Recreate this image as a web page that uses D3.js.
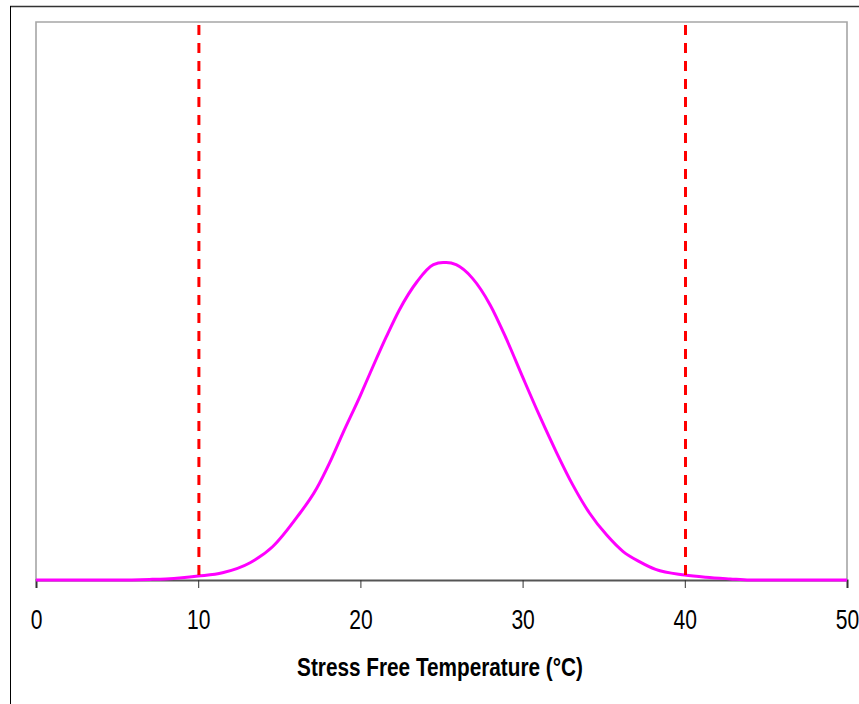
<!DOCTYPE html>
<html>
<head>
<meta charset="utf-8">
<script src="https://cdn.jsdelivr.net/npm/d3@7"></script>
<style>
  html, body { margin: 0; padding: 0; background: #fff; }
  svg { display: block; }
</style>
</head>
<body>
<svg id="chart" width="859" height="704"></svg>
<script>
// ---- data ----
const temperatures = [0, 5, 7, 8, 9, 10, 11.5, 13.2, 14.6, 16.1, 17.3, 18.1, 18.9, 20.0, 20.6, 21.6, 22.4, 23.5, 24.5, 25.1, 25.3, 25.9, 26.9, 28.0, 29.0, 30.0, 31.05, 32.1, 33.1, 34.1, 35.2, 36.2, 37.2, 38.2, 40, 41.3, 42.8, 44, 50];
const density      = [0, 0, 0.0001, 0.0002, 0.0004, 0.0007, 0.0013, 0.0031, 0.0060, 0.0113, 0.0164, 0.0210, 0.0262, 0.0331, 0.0371, 0.0436, 0.0484, 0.0535, 0.0565, 0.0569, 0.0569, 0.0565, 0.0541, 0.0493, 0.0432, 0.0364, 0.0294, 0.0228, 0.0170, 0.0121, 0.0080, 0.0051, 0.0033, 0.0019, 0.0009, 0.0005, 0.0002, 0, 0];
const limitLines   = [10, 40];
const xTicks       = [0, 10, 20, 30, 40, 50];
const xLabel       = "Stress Free Temperature (°C)";

(function () {
// ---- layout ----
const svg = d3.select("#chart");
const pLeft = 36, pRight = 847, pTop = 22, pBottom = 580;

const x = d3.scaleLinear().domain([0, 50]).range([pLeft, pRight]);
const y = d3.scaleLinear().domain([0, 0.1]).range([pBottom, pTop]);

// outer frame
svg.append("line").attr("x1", 10).attr("x2", 859).attr("y1", 6.5).attr("y2", 6.5)
  .attr("stroke", "#333").attr("stroke-width", 1.6);
svg.append("line").attr("x1", 10.5).attr("x2", 10.5).attr("y1", 6).attr("y2", 704)
  .attr("stroke", "#000").attr("stroke-width", 1);

// plot area border (left, top, right)
svg.append("path")
  .attr("d", `M${pLeft},${pBottom} L${pLeft},${pTop} L${pRight},${pTop} L${pRight},${pBottom}`)
  .attr("fill", "none").attr("stroke", "#a6a6a6").attr("stroke-width", 1.6);

// x axis
const axis = svg.append("g")
  .attr("transform", `translate(0,${pBottom})`)
  .call(d3.axisBottom(x).tickValues(xTicks).tickSize(8).tickFormat(d3.format("d")));
axis.select(".domain").attr("stroke", "#555").attr("stroke-width", 2.2);
axis.selectAll(".tick line").attr("stroke", "#333").attr("stroke-width", 1);
axis.selectAll(".tick text")
  .attr("y", 49).attr("dy", null)
  .attr("fill", "#000")
  .style("font-family", "'Liberation Sans', Arial, sans-serif")
  .style("font-size", "27px")
  .attr("transform", "scale(0.78,1)");

// curve
const line = d3.line()
  .x((d, i) => x(temperatures[i]))
  .y(d => y(d))
  .curve(d3.curveMonotoneX);
svg.append("path")
  .datum(density)
  .attr("d", line)
  .attr("fill", "none")
  .attr("stroke", "#ff00ff")
  .attr("stroke-width", 3)
  .attr("stroke-linejoin", "round");

// limit lines
svg.selectAll(".limit").data(limitLines).enter().append("line")
  .attr("class", "limit")
  .attr("x1", d => x(d) + 0.7).attr("x2", d => x(d) + 0.7)
  .attr("y1", y(0.1)).attr("y2", y(0))
  .attr("stroke", "#ff0000")
  .attr("stroke-width", 3)
  .attr("stroke-dasharray", "10,8")
  .attr("stroke-dashoffset", 15);

// axis title
const title = svg.append("text")
  .attr("x", 0).attr("y", 0)
  .attr("text-anchor", "middle")
  .style("font-family", "'Liberation Sans', Arial, sans-serif")
  .style("font-weight", "bold")
  .style("font-size", "25px")
  .attr("fill", "#000")
  .text(xLabel);
const tw = title.node().getComputedTextLength();
const sx = 286 / tw;
title.attr("transform", `translate(440,676) scale(${sx},1)`);
})();
</script>
</body>
</html>
